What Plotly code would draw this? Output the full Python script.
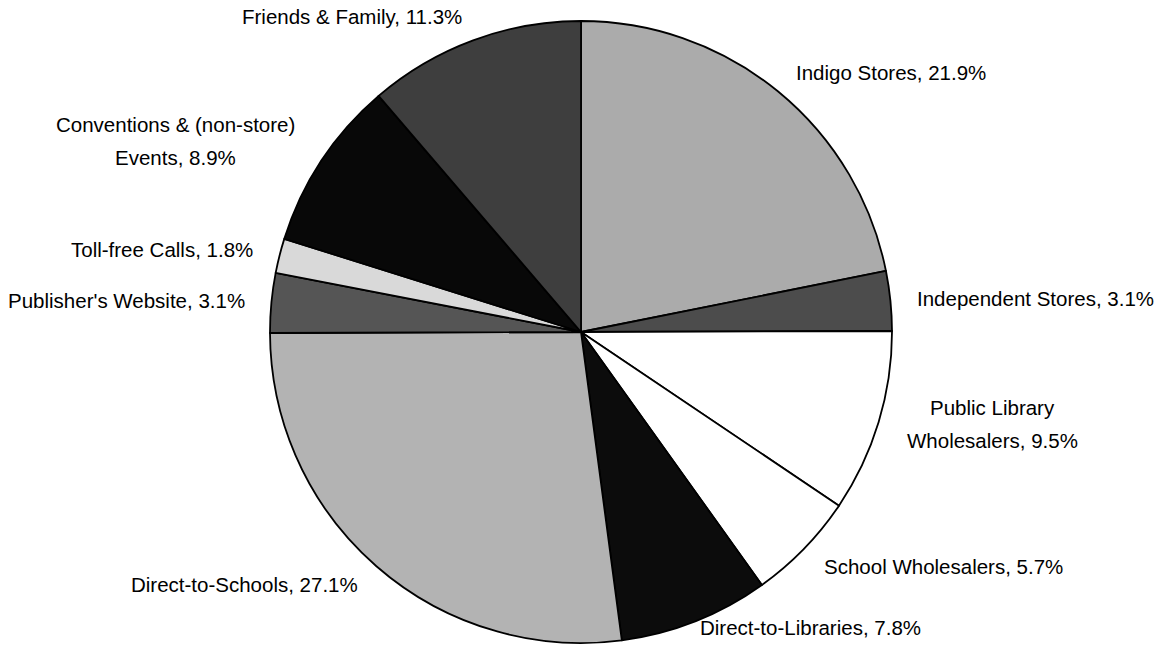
import math
import plotly.graph_objects as go

labels = ["Indigo Stores", "Independent Stores", "Public Library<br>Wholesalers",
          "School Wholesalers", "Direct-to-Libraries", "Direct-to-Schools",
          "Publisher's Website", "Toll-free Calls", "Conventions & (non-store)<br>Events",
          "Friends & Family"]
values = [21.9, 3.1, 9.5, 5.7, 7.8, 27.1, 3.1, 1.8, 8.9, 11.3]
colors = ["#ababab", "#4c4c4c", "#ffffff", "#ffffff", "#0c0c0c",
          "#b3b3b3", "#555555", "#d9d9d9", "#080808", "#3e3e3e"]

W, H = 1160, 653
cx, cy, R = 581, 332, 311  # pie centre / radius in pixels
LINE = 33                  # line spacing of two-line labels, pixels

fig = go.Figure(go.Pie(
    labels=[l.replace("<br>", " ") for l in labels], values=values, sort=False,
    direction="clockwise", rotation=0,
    marker=dict(colors=colors, line=dict(color="#000000", width=1.8)),
    textinfo="none", hoverinfo="label+percent", showlegend=False,
    domain=dict(x=[(cx - R) / W, (cx + R) / W], y=[(H - cy - R) / H, (H - cy + R) / H]),
))

font = dict(family="Liberation Sans, Arial, sans-serif", size=20.5, color="#000000")
total = sum(values)
cum = 0.0
annotations = []
for lab, v in zip(labels, values):
    mid = (cum + v / 2) / total * 2 * math.pi
    cum += v
    s, c = math.sin(mid), math.cos(mid)
    rr = R * (1.08 if c > -0.85 else 1.02)
    px = cx + rr * s
    py = cy - rr * c
    if s > 0.15:
        xa = "left"
    elif s < -0.15:
        xa = "right"
    else:
        xa = "center"
    lines = f"{lab}, {v:.1f}%".split("<br>")
    if len(lines) == 1:
        annotations.append(dict(
            x=px / W, y=1 - py / H, xref="paper", yref="paper", text=lines[0],
            showarrow=False, xanchor=xa, yanchor="middle", font=font))
    else:
        ctr_x = px + (90 if xa == "left" else -125 if xa == "right" else 0)
        n = len(lines)
        for i, t in enumerate(lines):
            ly = py - 6 + (i - (n - 1) / 2) * LINE
            annotations.append(dict(
                x=ctr_x / W, y=1 - ly / H, xref="paper", yref="paper", text=t,
                showarrow=False, xanchor="center", yanchor="middle", font=font))

fig.update_layout(
    width=W, height=H, margin=dict(l=0, r=0, t=0, b=0),
    paper_bgcolor="#ffffff", plot_bgcolor="#ffffff",
    annotations=annotations,
)

fig.write_html("out.html")
